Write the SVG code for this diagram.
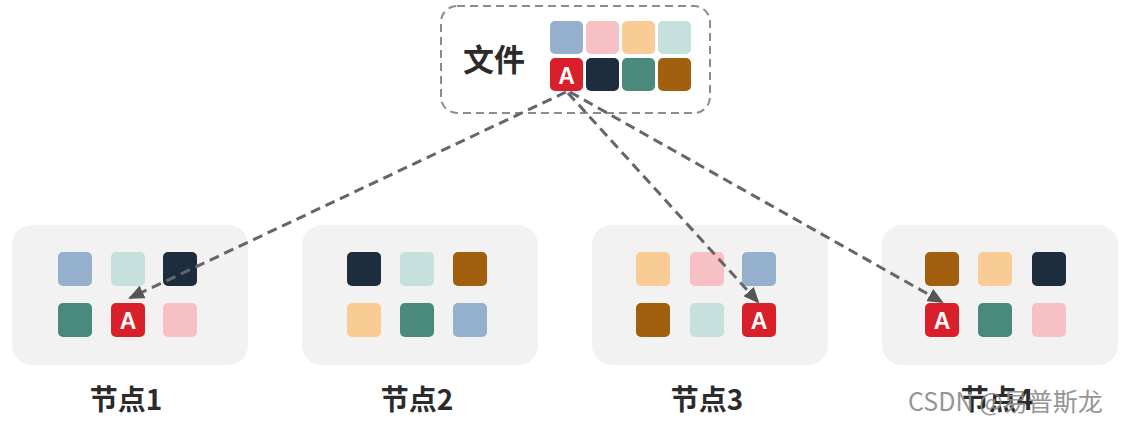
<svg xmlns="http://www.w3.org/2000/svg" width="1140" height="426" viewBox="0 0 1140 426">
<defs>
<style>
.bg{fill:#f2f2f3}
.b{fill:#94b0cc}.lt{fill:#c6e0de}.nv{fill:#1e2d3d}.tg{fill:#4a8a7d}.rd{fill:#d9202a}.pk{fill:#f6c0c4}.pc{fill:#f9cc95}.br{fill:#a35f10}
.a{font-family:"Liberation Sans",Arial,sans-serif;font-weight:bold;font-size:23px;fill:#fff;text-anchor:middle}
.lbl{font-family:"Noto Sans CJK SC","Liberation Sans",sans-serif;font-weight:bold;font-size:28px;fill:#2b2b2b;text-anchor:middle}
.wm{font-family:"Noto Sans CJK SC","Liberation Sans",sans-serif;font-size:25px;fill:#8a8a8a;opacity:0.9}
.ln{fill:none;stroke:#666;stroke-width:3;stroke-dasharray:10 6}
</style>
<marker id="ah" markerWidth="16" markerHeight="14" refX="14" refY="7" orient="auto" markerUnits="userSpaceOnUse" viewBox="0 0 16 14">
<path d="M0,0 L16,7 L0,14 z" fill="#555"/>
</marker>
<g id="sqA"><rect x="0" y="0" width="34" height="34" rx="5" class="rd"/><text x="17" y="26" class="a">A</text></g>
</defs>

<g id="file">
<rect x="441" y="6" width="269" height="107" rx="16" fill="#fff" stroke="#8c8c8c" stroke-width="2" stroke-dasharray="8 5"/>
<text x="494" y="71" class="lbl" style="font-size:31px">文件</text>
<rect x="550" y="21" width="33" height="33" rx="5" class="b"/>
<rect x="586" y="21" width="33" height="33" rx="5" class="pk"/>
<rect x="622" y="21" width="33" height="33" rx="5" class="pc"/>
<rect x="658" y="21" width="33" height="33" rx="5" class="lt"/>
<rect x="550" y="58" width="33" height="33" rx="5" class="rd"/><text x="566.5" y="84" class="a">A</text>
<rect x="586" y="58" width="33" height="33" rx="5" class="nv"/>
<rect x="622" y="58" width="33" height="33" rx="5" class="tg"/>
<rect x="658" y="58" width="33" height="33" rx="5" class="br"/>
</g>

<g id="node1">
<rect x="12" y="225" width="236" height="140" rx="20" class="bg"/>
<rect x="58" y="252" width="34" height="34" rx="5" class="b"/>
<rect x="111" y="252" width="34" height="34" rx="5" class="lt"/>
<rect x="163" y="252" width="34" height="34" rx="5" class="nv"/>
<rect x="58" y="303" width="34" height="34" rx="5" class="tg"/>
<use href="#sqA" x="111" y="303"/>
<rect x="163" y="303" width="34" height="34" rx="5" class="pk"/>
<text x="126" y="410" class="lbl">节点1</text>
</g>

<g id="node2">
<rect x="302" y="225" width="236" height="140" rx="20" class="bg"/>
<rect x="347" y="252" width="34" height="34" rx="5" class="nv"/>
<rect x="400" y="252" width="34" height="34" rx="5" class="lt"/>
<rect x="453" y="252" width="34" height="34" rx="5" class="br"/>
<rect x="347" y="303" width="34" height="34" rx="5" class="pc"/>
<rect x="400" y="303" width="34" height="34" rx="5" class="tg"/>
<rect x="453" y="303" width="34" height="34" rx="5" class="b"/>
<text x="417" y="410" class="lbl">节点2</text>
</g>

<g id="node3">
<rect x="592" y="225" width="236" height="140" rx="20" class="bg"/>
<rect x="636" y="252" width="34" height="34" rx="5" class="pc"/>
<rect x="690" y="252" width="34" height="34" rx="5" class="pk"/>
<rect x="742" y="252" width="34" height="34" rx="5" class="b"/>
<rect x="636" y="303" width="34" height="34" rx="5" class="br"/>
<rect x="690" y="303" width="34" height="34" rx="5" class="lt"/>
<use href="#sqA" x="742" y="303"/>
<text x="707" y="410" class="lbl">节点3</text>
</g>

<g id="node4">
<rect x="882" y="225" width="236" height="140" rx="20" class="bg"/>
<rect x="925" y="252" width="34" height="34" rx="5" class="br"/>
<rect x="978" y="252" width="34" height="34" rx="5" class="pc"/>
<rect x="1032" y="252" width="34" height="34" rx="5" class="nv"/>
<use href="#sqA" x="925" y="303"/>
<rect x="978" y="303" width="34" height="34" rx="5" class="tg"/>
<rect x="1032" y="303" width="34" height="34" rx="5" class="pk"/>
<text x="997" y="410" class="lbl">节点4</text>
</g>

<g id="connectors">
<line x1="566" y1="92" x2="130" y2="298" class="ln" marker-end="url(#ah)"/>
<line x1="568" y1="93" x2="758" y2="302" class="ln" marker-end="url(#ah)"/>
<line x1="570" y1="92" x2="942" y2="302" class="ln" marker-end="url(#ah)"/>
</g>

<text x="908" y="411" class="wm">CSDN @易普斯龙</text>
</svg>
